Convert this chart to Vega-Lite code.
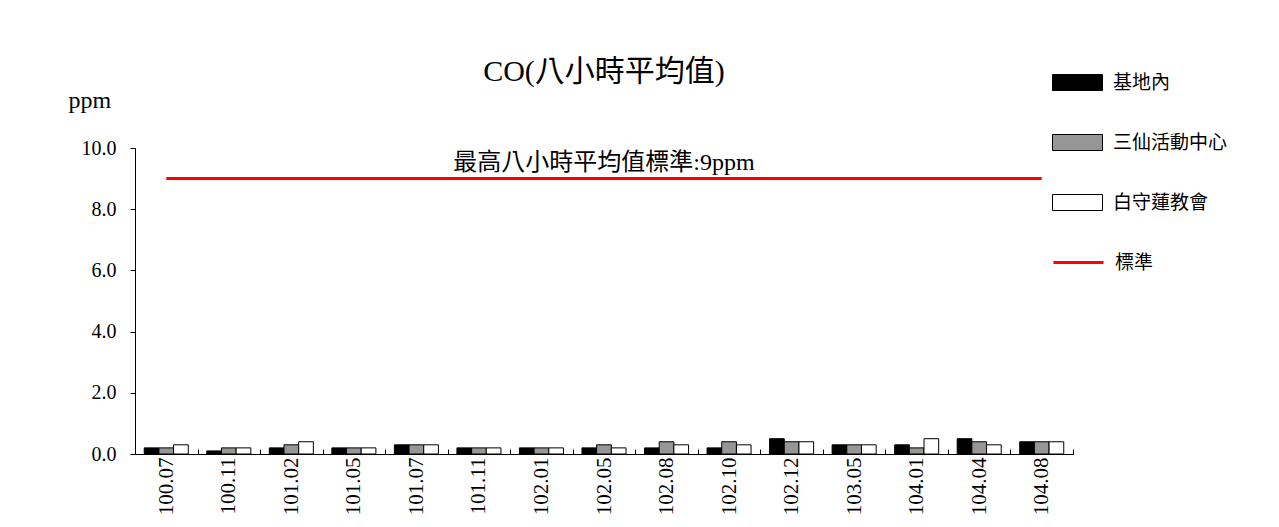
{
  "$schema": "https://vega.github.io/schema/vega-lite/v6.json",
  "width": 938,
  "height": 306,
  "autosize": {"type": "none"},
  "padding": {"left": 135, "top": 148, "right": 206, "bottom": 73},
  "background": "white",
  "config": {
    "view": {"stroke": null},
    "font": "Liberation Serif, Noto Sans CJK TC",
    "axis": {"labelColor": "black", "titleColor": "black", "domainColor": "black", "tickColor": "black", "grid": false}
  },
  "title": {
    "text": "CO(八小時平均值)",
    "fontSize": 30,
    "fontWeight": "normal",
    "font": "Liberation Serif, Noto Sans CJK TC",
    "anchor": "middle",
    "frame": "group",
    "offset": -30,
    "color": "black"
  },
  "datasets": {
    "bars": [
      {"month": "100.07", "site": "基地內", "value": 0.2},
      {"month": "100.07", "site": "三仙活動中心", "value": 0.2},
      {"month": "100.07", "site": "白守蓮教會", "value": 0.3},
      {"month": "100.11", "site": "基地內", "value": 0.1},
      {"month": "100.11", "site": "三仙活動中心", "value": 0.2},
      {"month": "100.11", "site": "白守蓮教會", "value": 0.2},
      {"month": "101.02", "site": "基地內", "value": 0.2},
      {"month": "101.02", "site": "三仙活動中心", "value": 0.3},
      {"month": "101.02", "site": "白守蓮教會", "value": 0.4},
      {"month": "101.05", "site": "基地內", "value": 0.2},
      {"month": "101.05", "site": "三仙活動中心", "value": 0.2},
      {"month": "101.05", "site": "白守蓮教會", "value": 0.2},
      {"month": "101.07", "site": "基地內", "value": 0.3},
      {"month": "101.07", "site": "三仙活動中心", "value": 0.3},
      {"month": "101.07", "site": "白守蓮教會", "value": 0.3},
      {"month": "101.11", "site": "基地內", "value": 0.2},
      {"month": "101.11", "site": "三仙活動中心", "value": 0.2},
      {"month": "101.11", "site": "白守蓮教會", "value": 0.2},
      {"month": "102.01", "site": "基地內", "value": 0.2},
      {"month": "102.01", "site": "三仙活動中心", "value": 0.2},
      {"month": "102.01", "site": "白守蓮教會", "value": 0.2},
      {"month": "102.05", "site": "基地內", "value": 0.2},
      {"month": "102.05", "site": "三仙活動中心", "value": 0.3},
      {"month": "102.05", "site": "白守蓮教會", "value": 0.2},
      {"month": "102.08", "site": "基地內", "value": 0.2},
      {"month": "102.08", "site": "三仙活動中心", "value": 0.4},
      {"month": "102.08", "site": "白守蓮教會", "value": 0.3},
      {"month": "102.10", "site": "基地內", "value": 0.2},
      {"month": "102.10", "site": "三仙活動中心", "value": 0.4},
      {"month": "102.10", "site": "白守蓮教會", "value": 0.3},
      {"month": "102.12", "site": "基地內", "value": 0.5},
      {"month": "102.12", "site": "三仙活動中心", "value": 0.4},
      {"month": "102.12", "site": "白守蓮教會", "value": 0.4},
      {"month": "103.05", "site": "基地內", "value": 0.3},
      {"month": "103.05", "site": "三仙活動中心", "value": 0.3},
      {"month": "103.05", "site": "白守蓮教會", "value": 0.3},
      {"month": "104.01", "site": "基地內", "value": 0.3},
      {"month": "104.01", "site": "三仙活動中心", "value": 0.2},
      {"month": "104.01", "site": "白守蓮教會", "value": 0.5},
      {"month": "104.04", "site": "基地內", "value": 0.5},
      {"month": "104.04", "site": "三仙活動中心", "value": 0.4},
      {"month": "104.04", "site": "白守蓮教會", "value": 0.3},
      {"month": "104.08", "site": "基地內", "value": 0.4},
      {"month": "104.08", "site": "三仙活動中心", "value": 0.4},
      {"month": "104.08", "site": "白守蓮教會", "value": 0.4}
    ],
    "std": [
      {"month": "100.07", "series": "標準", "value": 9},
      {"month": "100.11", "series": "標準", "value": 9},
      {"month": "101.02", "series": "標準", "value": 9},
      {"month": "101.05", "series": "標準", "value": 9},
      {"month": "101.07", "series": "標準", "value": 9},
      {"month": "101.11", "series": "標準", "value": 9},
      {"month": "102.01", "series": "標準", "value": 9},
      {"month": "102.05", "series": "標準", "value": 9},
      {"month": "102.08", "series": "標準", "value": 9},
      {"month": "102.10", "series": "標準", "value": 9},
      {"month": "102.12", "series": "標準", "value": 9},
      {"month": "103.05", "series": "標準", "value": 9},
      {"month": "104.01", "series": "標準", "value": 9},
      {"month": "104.04", "series": "標準", "value": 9},
      {"month": "104.08", "series": "標準", "value": 9}
    ],
    "note": [
      {"month": "102.05", "value": 9, "label": "最高八小時平均值標準:9ppm"}
    ]
  },
  "layer": [
    {
      "data": {"name": "bars"},
      "mark": {"type": "bar", "stroke": "black", "strokeWidth": 1},
      "encoding": {
        "x": {
          "field": "month", "type": "ordinal", "sort": null,
          "scale": {"paddingInner": 0, "paddingOuter": 0},
          "axis": {
            "title": null,
            "labelAngle": 270,
            "labelFontSize": 21,
            "labelPadding": 8,
            "tickSize": -5,
            "tickBand": "extent",
            "domainWidth": 1
          }
        },
        "xOffset": {
          "field": "site", "type": "nominal",
          "sort": ["基地內", "三仙活動中心", "白守蓮教會"],
          "scale": {"paddingOuter": 0.63, "paddingInner": 0}
        },
        "y": {
          "field": "value", "type": "quantitative",
          "scale": {"domain": [0, 10]},
          "axis": {
            "title": "ppm",
            "titleAngle": 0,
            "titleFontSize": 24,
            "titleFontWeight": "normal",
            "titleAlign": "left",
            "titleBaseline": "middle",
            "titleX": -67,
            "titleY": -48,
            "values": [0, 2, 4, 6, 8, 10],
            "format": ".1f",
            "labelFontSize": 20,
            "labelPadding": 14,
            "tickSize": 5
          }
        },
        "fill": {
          "field": "site", "type": "nominal",
          "sort": ["基地內", "三仙活動中心", "白守蓮教會"],
          "scale": {"domain": ["基地內", "三仙活動中心", "白守蓮教會"], "range": ["#000000", "#969696", "#ffffff"]},
          "legend": {
            "title": null,
            "orient": "none",
            "legendX": 917,
            "legendY": -91,
            "padding": 0,
            "symbolType": "M-1,-0.32L1,-0.32L1,0.32L-1,0.32Z",
            "symbolSize": 2500,
            "symbolStrokeColor": "black",
            "symbolStrokeWidth": 1,
            "labelFontSize": 19,
            "labelOffset": 10,
            "labelColor": "black",
            "rowPadding": 24
          }
        }
      }
    },
    {
      "data": {"name": "std"},
      "mark": {"type": "line", "strokeWidth": 3},
      "encoding": {
        "x": {"field": "month", "type": "ordinal", "sort": null},
        "y": {"field": "value", "type": "quantitative"},
        "stroke": {
          "field": "series", "type": "nominal",
          "scale": {"domain": ["標準"], "range": ["#ff0000"]},
          "legend": {
            "title": null,
            "orient": "none",
            "legendX": 917,
            "legendY": 88,
            "padding": 0,
            "symbolType": "stroke",
            "symbolSize": 2500,
            "symbolStrokeWidth": 3,
            "labelFontSize": 19,
            "labelOffset": 10,
            "labelColor": "black"
          }
        }
      }
    },
    {
      "data": {"name": "note"},
      "mark": {"type": "text", "fontSize": 24, "dy": -16, "color": "black", "baseline": "middle"},
      "encoding": {
        "x": {"field": "month", "type": "ordinal", "sort": null},
        "y": {"field": "value", "type": "quantitative"},
        "text": {"field": "label"}
      }
    }
  ]
}
